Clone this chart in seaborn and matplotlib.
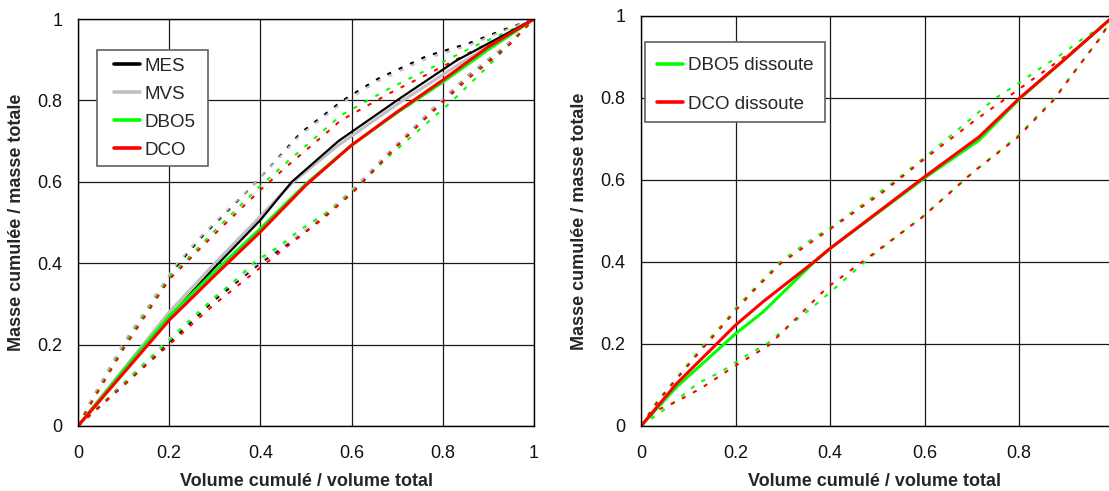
import matplotlib
matplotlib.use("Agg")
import matplotlib.pyplot as plt
from matplotlib.patches import Rectangle
import seaborn as sns

# ---------------- data: left panel ----------------
x_mes = [0, 0.1, 0.2, 0.3, 0.4, 0.469, 0.571, 0.706, 0.83, 1.0]
y_mes = [0, 0.135, 0.268, 0.39, 0.506, 0.60, 0.70, 0.805, 0.898, 1.0]
x_mvs = [0, 0.1, 0.2, 0.3, 0.4, 0.469, 0.571, 0.706, 0.83, 1.0]
y_mvs = [0, 0.14, 0.28, 0.40, 0.515, 0.597, 0.69, 0.795, 0.885, 1.0]
x_dbo = [0, 0.1, 0.2, 0.3, 0.4, 0.5, 0.6, 0.7, 0.8, 0.9, 1.0]
y_dbo = [0, 0.137, 0.27, 0.38, 0.485, 0.595, 0.69, 0.77, 0.845, 0.925, 1.0]
x_dco = [0, 0.1, 0.2, 0.3, 0.4, 0.5, 0.6, 0.7, 0.8, 0.9, 1.0]
y_dco = [0, 0.13, 0.26, 0.37, 0.477, 0.592, 0.69, 0.772, 0.85, 0.932, 1.0]

x_mes_hi = [0, 0.03, 0.1, 0.212, 0.268, 0.341, 0.4, 0.487, 0.582, 0.659, 0.765, 0.856, 0.932, 1.0]
y_mes_hi = [0, 0.065, 0.2, 0.387, 0.461, 0.543, 0.61, 0.719, 0.801, 0.854, 0.909, 0.94, 0.973, 1.0]
x_mvs_hi = [0, 0.03, 0.1, 0.212, 0.268, 0.341, 0.4, 0.487, 0.582, 0.659, 0.765, 0.856, 0.932, 1.0]
y_mvs_hi = [0, 0.068, 0.205, 0.392, 0.465, 0.546, 0.61, 0.714, 0.796, 0.848, 0.903, 0.935, 0.97, 1.0]
x_dbo_hi = [0, 0.03, 0.1, 0.2, 0.3, 0.4, 0.46, 0.553, 0.575, 0.684, 0.787, 0.867, 0.94, 1.0]
y_dbo_hi = [0, 0.06, 0.195, 0.365, 0.48, 0.59, 0.65, 0.74, 0.762, 0.83, 0.887, 0.932, 0.968, 1.0]
x_dco_hi = [0, 0.03, 0.1, 0.2, 0.3, 0.4, 0.46, 0.553, 0.575, 0.684, 0.787, 0.867, 0.94, 1.0]
y_dco_hi = [0, 0.058, 0.19, 0.36, 0.472, 0.58, 0.64, 0.728, 0.75, 0.818, 0.876, 0.922, 0.962, 1.0]

x_mes_lo = [0, 0.1, 0.2, 0.3, 0.4, 0.494, 0.538, 0.604, 0.684, 0.768, 0.852, 0.94, 1.0]
y_mes_lo = [0, 0.1, 0.205, 0.31, 0.4, 0.473, 0.514, 0.58, 0.674, 0.768, 0.858, 0.936, 1.0]
x_mvs_lo = [0, 0.1, 0.2, 0.3, 0.35, 0.4, 0.494, 0.538, 0.604, 0.684, 0.768, 0.852, 0.94, 1.0]
y_mvs_lo = [0, 0.105, 0.215, 0.318, 0.36, 0.405, 0.478, 0.518, 0.584, 0.676, 0.77, 0.86, 0.938, 1.0]
x_dbo_lo = [0, 0.1, 0.2, 0.3, 0.346, 0.388, 0.439, 0.487, 0.56, 0.604, 0.684, 0.819, 0.9, 1.0]
y_dbo_lo = [0, 0.105, 0.21, 0.315, 0.359, 0.404, 0.44, 0.482, 0.535, 0.578, 0.665, 0.797, 0.885, 1.0]
x_dco_lo = [0, 0.1, 0.2, 0.3, 0.403, 0.472, 0.538, 0.604, 0.684, 0.768, 0.852, 0.94, 1.0]
y_dco_lo = [0, 0.1, 0.2, 0.3, 0.392, 0.453, 0.51, 0.575, 0.67, 0.762, 0.85, 0.93, 1.0]

# ---------------- data: right panel ----------------
x_dbo_d = [0, 0.075, 0.2, 0.258, 0.37, 0.4, 0.6, 0.715, 0.8, 0.891, 1.0]
y_dbo_d = [0, 0.095, 0.225, 0.278, 0.404, 0.433, 0.605, 0.697, 0.797, 0.889, 1.0]
x_dco_d = [0, 0.075, 0.2, 0.258, 0.37, 0.4, 0.6, 0.715, 0.8, 0.891, 1.0]
y_dco_d = [0, 0.103, 0.246, 0.303, 0.404, 0.433, 0.608, 0.705, 0.799, 0.889, 1.0]

x_dbo_d_hi = [0, 0.035, 0.088, 0.127, 0.18, 0.2, 0.24, 0.296, 0.367, 0.4, 0.531, 0.619, 0.682, 0.749, 0.799, 0.844, 0.89, 0.936, 0.964, 1.0]
y_dbo_d_hi = [0, 0.062, 0.135, 0.19, 0.258, 0.287, 0.336, 0.402, 0.46, 0.483, 0.592, 0.673, 0.734, 0.799, 0.836, 0.872, 0.907, 0.946, 0.966, 1.0]
x_dco_d_hi = [0, 0.035, 0.088, 0.127, 0.18, 0.201, 0.24, 0.296, 0.367, 0.392, 0.509, 0.597, 0.707, 0.777, 0.851, 0.92, 1.0]
y_dco_d_hi = [0, 0.059, 0.132, 0.185, 0.254, 0.283, 0.332, 0.397, 0.454, 0.474, 0.568, 0.649, 0.746, 0.803, 0.864, 0.92, 1.0]
x_dbo_d_lo = [0, 0.053, 0.12, 0.169, 0.219, 0.268, 0.31, 0.36, 0.402, 0.483, 0.595, 0.701, 0.795, 0.873, 0.922, 0.971, 1.0]
y_dbo_d_lo = [0, 0.043, 0.104, 0.132, 0.169, 0.202, 0.242, 0.287, 0.328, 0.41, 0.51, 0.617, 0.705, 0.797, 0.872, 0.946, 1.0]
x_dco_d_lo = [0, 0.033, 0.074, 0.127, 0.197, 0.272, 0.342, 0.392, 0.483, 0.597, 0.703, 0.795, 0.873, 0.922, 0.971, 1.0]
y_dco_d_lo = [0, 0.038, 0.059, 0.092, 0.145, 0.198, 0.278, 0.336, 0.413, 0.511, 0.62, 0.702, 0.795, 0.872, 0.946, 1.0]

tick_vals = [0, 0.2, 0.4, 0.6, 0.8, 1.0]
tick_labels = ["0", "0.2", "0.4", "0.6", "0.8", "1"]
xlabel = "Volume cumulé / volume total"
ylabel = "Masse cumulée / masse totale"

BLACK, GRAY, GREEN, RED = "#000000", "#c0c0c0", "#00ff00", "#ff0000"

sns.set_style("white")
plt.rcParams["font.family"] = ["Liberation Sans", "DejaVu Sans"]

fig = plt.figure(figsize=(11.09, 4.91), dpi=100)
axL = fig.add_axes([78 / 1109, 65 / 491, 456 / 1109, 407 / 491])
axR = fig.add_axes([641 / 1109, 65 / 491, 468 / 1109, 410 / 491])

DASH = dict(lw=1.5, linestyle=(0, (2.0, 4.0)), estimator=None, sort=False)
SOLID = dict(lw=2.2, estimator=None, sort=False)

# left dashed envelopes
for xs, ys, c in [(x_mes_hi, y_mes_hi, BLACK), (x_mvs_hi, y_mvs_hi, GRAY),
                  (x_dbo_hi, y_dbo_hi, GREEN), (x_dco_hi, y_dco_hi, RED),
                  (x_mes_lo, y_mes_lo, BLACK), (x_mvs_lo, y_mvs_lo, GRAY),
                  (x_dbo_lo, y_dbo_lo, GREEN), (x_dco_lo, y_dco_lo, RED)]:
    sns.lineplot(x=xs, y=ys, color=c, ax=axL, **DASH)

sns.lineplot(x=x_mvs, y=y_mvs, color=GRAY, ax=axL, label="MVS", **SOLID)
sns.lineplot(x=x_mes, y=y_mes, color=BLACK, ax=axL, label="MES", lw=1.6, estimator=None, sort=False)
sns.lineplot(x=x_dbo, y=y_dbo, color=GREEN, ax=axL, label="DBO5", **SOLID)
sns.lineplot(x=x_dco, y=y_dco, color=RED, ax=axL, label="DCO", **SOLID)

# right dashed envelopes
for xs, ys, c in [(x_dbo_d_hi, y_dbo_d_hi, GREEN), (x_dco_d_hi, y_dco_d_hi, RED),
                  (x_dbo_d_lo, y_dbo_d_lo, GREEN), (x_dco_d_lo, y_dco_d_lo, RED)]:
    sns.lineplot(x=xs, y=ys, color=c, ax=axR, **DASH)
sns.lineplot(x=x_dbo_d, y=y_dbo_d, color=GREEN, ax=axR, label="DBO5 dissoute", **SOLID)
sns.lineplot(x=x_dco_d, y=y_dco_d, color=RED, ax=axR, label="DCO dissoute", **SOLID)

for ax, xmax in [(axL, 1.0), (axR, 0.99)]:
    ax.set_xlim(0, xmax)
    ax.set_ylim(0, 1)
    ax.set_xticks([t for t in tick_vals if t <= xmax])
    ax.set_xticklabels([l for t, l in zip(tick_vals, tick_labels) if t <= xmax])
    ax.set_yticks(tick_vals)
    ax.set_yticklabels(tick_labels)
    ax.grid(True, color="#1a1a1a", lw=0.9)
    ax.set_axisbelow(True)
    for s in ax.spines.values():
        s.set_color("black")
        s.set_linewidth(1.0)
    ax.tick_params(axis="both", direction="out", length=5, width=0.9, color="black",
                   labelsize=13, labelcolor="#111111")
    ax.tick_params(axis="x", pad=8.5)
    ax.tick_params(axis="y", pad=6)
    ax.set_xlabel(xlabel, fontsize=13, fontweight="bold", labelpad=8)
    ax.set_ylabel(ylabel, fontsize=13, fontweight="bold", labelpad=9)
axR.spines["right"].set_visible(False)

# legends: frame drawn as rectangle, entries via legend
def make_legend(ax, order, box, anchor, spacing):
    handles, labels = ax.get_legend_handles_labels()
    d = dict(zip(labels, handles))
    ax.add_patch(Rectangle((box[0], box[1]), box[2] - box[0], box[3] - box[1],
                           transform=ax.transAxes, facecolor="white",
                           edgecolor="#606060", lw=1.2, zorder=4.5, clip_on=False))
    leg = ax.legend([d[k] for k in order], order, loc="upper left",
                    bbox_to_anchor=anchor, borderaxespad=0, borderpad=0,
                    frameon=False, fontsize=13.5, handlelength=1.4,
                    handletextpad=0.25, labelspacing=spacing)
    for h in leg.get_lines():
        h.set_linewidth(2.6)
    leg.set_zorder(5)

make_legend(axL, ["MES", "MVS", "DBO5", "DCO"],
            (0.0417, 0.639, 0.285, 0.924), (0.079, 0.905), 0.58)
make_legend(axR, ["DBO5 dissoute", "DCO dissoute"],
            (0.0085, 0.741, 0.393, 0.937), (0.0342, 0.90), 1.16)

fig.savefig("out.png", dpi=100, facecolor="white")
